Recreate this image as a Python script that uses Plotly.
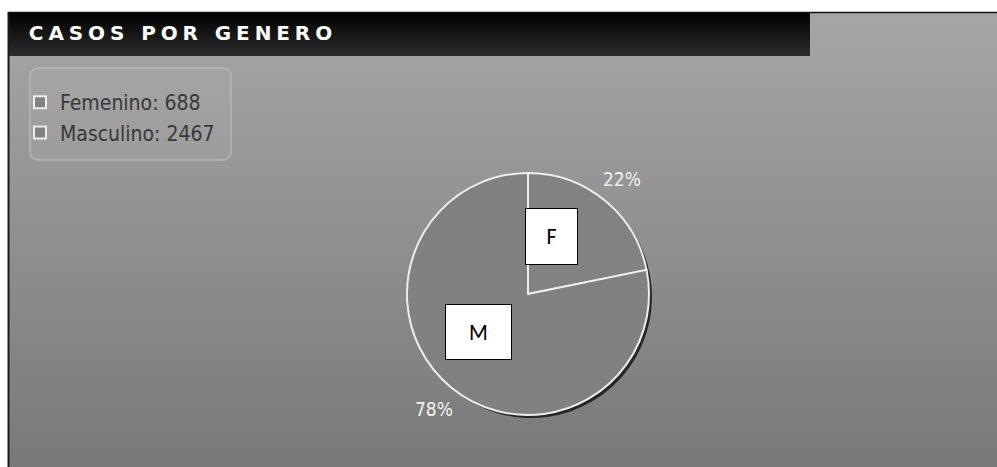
import math
import plotly.graph_objects as go

# Case counts by gender
genders = ["Femenino", "Masculino"]
codes = ["F", "M"]
cases = [688, 2467]
chart_title = "CASOS POR GENERO"

W, H = 997, 467


def px(x):
    return x / W


def py(y):
    return 1 - y / H


def mix(c0, c1, t):
    return "rgb({},{},{})".format(*[round(a + (b - a) * t) for a, b in zip(c0, c1)])


shapes = []


def gradient(x0, x1, ya, yb, c0, c1, step):
    """Vertical gradient made of whole-pixel strips that overlap by one pixel."""
    rows = list(range(ya, yb, step))
    for i, a in enumerate(rows):
        b = min(a + step + 1, yb)
        t = i / max(len(rows) - 1, 1)
        shapes.append(dict(type="rect", xref="paper", yref="paper", layer="below",
                           x0=px(x0), x1=px(x1), y0=py(b), y1=py(a),
                           line=dict(width=0), fillcolor=mix(c0, c1, t)))


# panel body and title bar
gradient(8, W, 12, H, (166, 166, 166), (121, 121, 121), 6)
gradient(8, 810, 12, 56, (0, 0, 0), (44, 44, 44), 2)

# panel frame lines (top and left)
shapes.append(dict(type="line", xref="paper", yref="paper", layer="below",
                   x0=px(8), x1=1, y0=py(12.5), y1=py(12.5), line=dict(color="#111111", width=1.5)))
shapes.append(dict(type="line", xref="paper", yref="paper", layer="below",
                   x0=px(8.5), x1=px(8.5), y0=0, y1=py(12), line=dict(color="#1a1a1a", width=2)))

# rounded legend box
lx0, lx1, ly0, ly1, r = 30, 231, 68, 160, 9
path = (f"M {px(lx0 + r)} {py(ly0)} L {px(lx1 - r)} {py(ly0)} "
        f"Q {px(lx1)} {py(ly0)} {px(lx1)} {py(ly0 + r)} L {px(lx1)} {py(ly1 - r)} "
        f"Q {px(lx1)} {py(ly1)} {px(lx1 - r)} {py(ly1)} L {px(lx0 + r)} {py(ly1)} "
        f"Q {px(lx0)} {py(ly1)} {px(lx0)} {py(ly1 - r)} L {px(lx0)} {py(ly0 + r)} "
        f"Q {px(lx0)} {py(ly0)} {px(lx0 + r)} {py(ly0)} Z")
shapes.append(dict(type="path", path=path, xref="paper", yref="paper", layer="below",
                   fillcolor="rgba(190,190,190,0.15)", line=dict(color="rgba(196,196,196,0.65)", width=1.5)))

# pie placement
cx, cy, rad = 528, 294, 121
dom_x = [px(cx - rad), px(cx + rad)]
dom_y = [py(cy + rad), py(cy - rad)]
sh = 3
shadow_x = [px(cx - rad + sh), px(cx + rad + sh)]
shadow_y = [py(cy + rad + sh), py(cy - rad + sh)]

legend_labels = [f"{g}: {v}" for g, v in zip(genders, cases)]

fig = go.Figure()

# drop shadow under the pie
fig.add_trace(go.Pie(
    values=cases, labels=legend_labels, sort=False, direction="clockwise", rotation=0,
    domain=dict(x=shadow_x, y=shadow_y),
    marker=dict(colors=["#262626", "#262626"], line=dict(width=0)),
    textinfo="none", hoverinfo="skip", showlegend=False,
))

fig.add_trace(go.Pie(
    values=cases, labels=legend_labels, sort=False, direction="clockwise", rotation=0,
    domain=dict(x=dom_x, y=dom_y),
    marker=dict(colors=["#828282", "#818181"], line=dict(color="#eeeeee", width=2)),
    textinfo="none",
    hovertemplate="%{label}<br>%{percent:.1%}<extra></extra>",
))

annotations = [
    dict(text=chart_title, xref="paper", yref="paper", x=px(183), y=py(33),
         xanchor="center", yanchor="middle", showarrow=False,
         font=dict(family="DejaVu Sans", size=20, color="white", weight="bold")),
]

# percentage labels just outside each slice, along its mid angle
total = sum(cases)
start = 0.0
label_r = rad + 28
for v in cases:
    frac = v / total
    mid = math.radians((start + frac / 2) * 360)
    start += frac
    annotations.append(dict(text=f"{round(frac * 100)}%", xref="paper", yref="paper",
                            x=px(cx + label_r * math.sin(mid)), y=py(cy - label_r * math.cos(mid)),
                            xanchor="center", yanchor="middle", showarrow=False,
                            font=dict(family="DejaVu Sans Condensed", size=19, color="#f2f2f2")))

# slice code boxes
box_pos = [(551, 236, 53, 57), (478, 332, 67, 56)]
for code, (bx, by, bw, bh) in zip(codes, box_pos):
    annotations.append(dict(text=code, xref="paper", yref="paper", x=px(bx), y=py(by),
                            xanchor="center", yanchor="middle", showarrow=False,
                            width=bw - 2, height=bh - 2, bgcolor="white",
                            bordercolor="black", borderwidth=1, borderpad=0,
                            font=dict(family="Carlito, Liberation Sans, Arial", size=22, color="black")))

fig.update_layout(
    width=W, height=H,
    margin=dict(l=0, r=0, t=0, b=0),
    paper_bgcolor="white",
    shapes=shapes,
    annotations=annotations,
    showlegend=True,
    legend=dict(x=px(20), y=py(82), xanchor="left", yanchor="top",
                bgcolor="rgba(0,0,0,0)", borderwidth=0,
                font=dict(family="DejaVu Sans Condensed", size=21, color="#383838"),
                itemwidth=30),
)

fig.write_html("out.html", config=dict(displayModeBar=False),
               post_script="document.querySelectorAll('.annotation-text').forEach(function(t){"
                           "if(t.textContent==='" + chart_title + "'){t.style.letterSpacing='4.9px';}});")
